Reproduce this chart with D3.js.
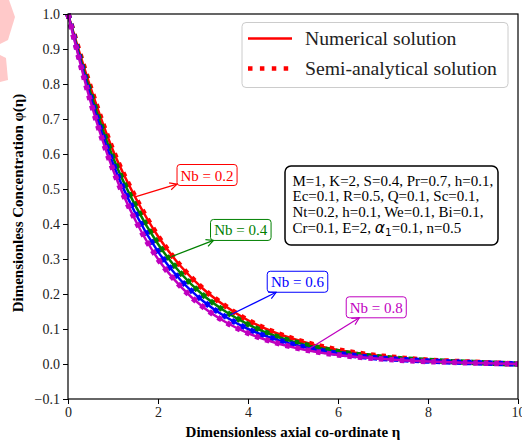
<!DOCTYPE html>
<html>
<head>
<meta charset="utf-8">
<script src="https://cdn.jsdelivr.net/npm/d3@7.9.0/dist/d3.min.js"></script>
<style>
  body { margin: 0; background: #fff; }
  svg { display: block; font-family: "Liberation Serif", "DejaVu Serif", serif; }
</style>
</head>
<body>
<svg id="chart" width="522" height="445"></svg>
<script>
// eta grid and concentration profiles
const eta = [0, 0.5, 1, 1.5, 2, 2.5, 3, 3.5, 4, 4.5, 5, 5.5, 6, 6.5, 7, 7.5, 8, 8.5, 9, 9.5, 10];
const phiNb02 = [1.0, 0.79, 0.61, 0.475, 0.365, 0.28, 0.215, 0.165, 0.125, 0.095, 0.072, 0.054, 0.04, 0.03, 0.022, 0.016, 0.011, 0.008, 0.005, 0.0025, 0];
const phiNb04 = [1.0, 0.775, 0.59, 0.452, 0.343, 0.26, 0.197, 0.15, 0.113, 0.085, 0.064, 0.048, 0.035, 0.026, 0.019, 0.014, 0.01, 0.007, 0.0045, 0.002, 0];
const phiNb06 = [1.0, 0.762, 0.572, 0.43, 0.321, 0.24, 0.18, 0.135, 0.1, 0.075, 0.056, 0.041, 0.03, 0.022, 0.016, 0.012, 0.0085, 0.006, 0.004, 0.0018, 0];
const phiNb08 = [1.0, 0.75, 0.555, 0.41, 0.3, 0.222, 0.163, 0.12, 0.088, 0.065, 0.048, 0.035, 0.026, 0.019, 0.014, 0.01, 0.007, 0.005, 0.003, 0.0015, 0];

const seriesNames = ['Nb = 0.2', 'Nb = 0.4', 'Nb = 0.6', 'Nb = 0.8'];
const seriesColors = ['#ff0000', '#008000', '#0000ff', '#bf00bf'];
const seriesValues = [phiNb02, phiNb04, phiNb06, phiNb08];

// annotation arrow tips (on curves) and label centres, data coords
const arrowTips = [[1.51, 0.478], [2.3, 0.307], [3.6, 0.14], [5.38, 0.045]];
const labelCentres = [[3.09, 0.54], [3.84, 0.383], [5.1, 0.235], [6.85, 0.162]];

const xTicks = [0, 2, 4, 6, 8, 10];
const yTicks = [-0.1, 0, 0.1, 0.2, 0.3, 0.4, 0.5, 0.6, 0.7, 0.8, 0.9, 1.0];

const paramLines = [
  'M=1, K=2, S=0.4, Pr=0.7, h=0.1,',
  'Ec=0.1, R=0.5, Q=0.1, Sc=0.1,',
  'Nt=0.2, h=0.1, We=0.1, Bi=0.1,'
];

const svg = d3.select('#chart');
const margin = { left: 68, right: 518, top: 14, bottom: 399 };

const x = d3.scaleLinear().domain([0, 10]).range([margin.left, margin.right]);
const y = d3.scaleLinear().domain([-0.1, 1.0]).range([margin.bottom, margin.top]);

// faint watermark at the left edge
svg.append('path').attr('d', 'M0,0 L9,0 L15,17 L8,40 L0,44 Z').attr('fill', '#ffc9c9');
svg.append('path').attr('d', 'M0,55 L6,58 L8,80 L0,82 Z').attr('fill', '#ffc9c9');

// curves
const line = d3.line()
  .x((d) => x(d[0]))
  .y((d) => y(d[1]))
  .curve(d3.curveMonotoneX);

const plot = svg.append('g');
seriesValues.forEach((vals, i) => {
  const pts = eta.map((e, j) => [e, vals[j]]);
  plot.append('path')
    .attr('d', line(pts))
    .attr('fill', 'none')
    .attr('stroke', seriesColors[i])
    .attr('stroke-width', 2.5);
  plot.append('path')
    .attr('d', line(pts))
    .attr('fill', 'none')
    .attr('stroke', seriesColors[i])
    .attr('stroke-width', 5.5)
    .attr('stroke-dasharray', '4.5,6');
});

// frame
svg.append('rect')
  .attr('x', margin.left).attr('y', margin.top)
  .attr('width', margin.right - margin.left)
  .attr('height', margin.bottom - margin.top)
  .attr('fill', 'none').attr('stroke', '#000').attr('stroke-width', 1.2);

// axes
const xAxis = svg.append('g')
  .attr('transform', `translate(0,${margin.bottom})`)
  .call(d3.axisBottom(x).tickValues(xTicks).tickSize(5).tickPadding(3).tickFormat(d3.format('d')));
const yAxis = svg.append('g')
  .attr('transform', `translate(${margin.left},0)`)
  .call(d3.axisLeft(y).tickValues(yTicks).tickSize(5).tickPadding(3)
    .tickFormat((d) => d3.format('.1f')(d).replace('-', '\u2212')));

[xAxis, yAxis].forEach((g) => {
  g.select('.domain').remove();
  g.selectAll('.tick line').attr('stroke', '#000').attr('stroke-width', 1);
  g.selectAll('.tick text')
    .attr('fill', '#222')
    .style('font-family', '"Liberation Serif", serif')
    .style('font-size', '14px');
});

// axis labels
svg.append('text')
  .attr('x', (margin.left + margin.right) / 2)
  .attr('y', 437)
  .attr('text-anchor', 'middle')
  .style('font-weight', 'bold')
  .style('font-size', '15px')
  .text('Dimensionless axial co-ordinate \u03b7');

svg.append('text')
  .attr('transform', `translate(23,203) rotate(-90)`)
  .attr('text-anchor', 'middle')
  .style('font-weight', 'bold')
  .style('font-size', '15px')
  .text('Dimensionless Concentration \u03c6(\u03b7)');

// annotations
svg.append('defs').selectAll('marker')
  .data(seriesColors)
  .join('marker')
  .attr('id', (d, i) => 'arr' + i)
  .attr('viewBox', '0 0 10 10')
  .attr('refX', 9).attr('refY', 5)
  .attr('markerWidth', 9).attr('markerHeight', 9)
  .attr('markerUnits', 'userSpaceOnUse')
  .attr('orient', 'auto')
  .append('path')
  .attr('d', 'M1,1 L9,5 L1,9')
  .attr('fill', 'none')
  .attr('stroke', (d) => d)
  .attr('stroke-width', 1.3);

seriesNames.forEach((name, i) => {
  const cx = x(labelCentres[i][0]);
  const cy = y(labelCentres[i][1]);
  const g = svg.append('g');
  const t = g.append('text')
    .attr('x', cx).attr('y', cy + 5.5)
    .attr('text-anchor', 'middle')
    .attr('fill', seriesColors[i])
    .style('font-size', '15px')
    .text(name);
  const bb = t.node().getBBox();
  const hw = bb.width / 2 + 3.5, hh = 10.5;
  g.insert('rect', 'text')
    .attr('x', cx - hw).attr('y', cy - hh)
    .attr('width', hw * 2).attr('height', hh * 2)
    .attr('rx', 3)
    .attr('fill', '#fff')
    .attr('stroke', seriesColors[i])
    .attr('stroke-width', 1);
  // clip arrow at box edge
  const tx = x(arrowTips[i][0]), ty = y(arrowTips[i][1]);
  const dx = tx - cx, dy = ty - cy;
  const s = Math.min(hw / Math.abs(dx), hh / Math.abs(dy));
  svg.append('line')
    .attr('x1', tx).attr('y1', ty)
    .attr('x2', cx + dx * s).attr('y2', cy + dy * s)
    .attr('stroke', seriesColors[i])
    .attr('stroke-width', 1.3)
    .attr('marker-end', `url(#arr${i})`);
});

// parameter box
const pb = svg.append('g');
pb.append('rect')
  .attr('x', 285).attr('y', 166)
  .attr('width', 213).attr('height', 79)
  .attr('rx', 6)
  .attr('fill', '#fff').attr('stroke', '#000').attr('stroke-width', 1.5);
paramLines.forEach((l, i) => {
  pb.append('text')
    .attr('x', 292.5).attr('y', 185.5 + i * 15.8)
    .style('font-size', '15px')
    .text(l);
});
const last = pb.append('text')
  .attr('x', 292.5).attr('y', 185.5 + 3 * 15.8)
  .style('font-size', '15px');
last.append('tspan').text('Cr=0.1, E=2, ');
last.append('tspan').style('font-family', '"DejaVu Sans", sans-serif').style('font-style', 'italic').style('font-size', '15.5px').text('\u03b1');
last.append('tspan').style('font-family', '"DejaVu Sans", sans-serif').style('font-size', '10.5px').attr('dy', 3).text('1');
last.append('tspan').attr('dy', -3).text('=0.1, n=0.5');

// legend
const lg = svg.append('g');
lg.append('rect')
  .attr('x', 242).attr('y', 22.5)
  .attr('width', 266).attr('height', 65)
  .attr('rx', 4)
  .attr('fill', '#fff').attr('fill-opacity', 0.8)
  .attr('stroke', '#ccc').attr('stroke-width', 1);
lg.append('line')
  .attr('x1', 248).attr('x2', 292).attr('y1', 38.5).attr('y2', 38.5)
  .attr('stroke', '#ff0000').attr('stroke-width', 2.5);
lg.append('line')
  .attr('x1', 248).attr('x2', 292).attr('y1', 68.5).attr('y2', 68.5)
  .attr('stroke', '#ff0000').attr('stroke-width', 4.5)
  .attr('stroke-dasharray', '4.5,7.4');
lg.append('text').attr('x', 305).attr('y', 45).style('font-size', '19.7px').attr('fill', '#222').text('Numerical solution');
lg.append('text').attr('x', 305).attr('y', 75).style('font-size', '19.7px').attr('fill', '#222').text('Semi-analytical solution');
</script>
</body>
</html>
